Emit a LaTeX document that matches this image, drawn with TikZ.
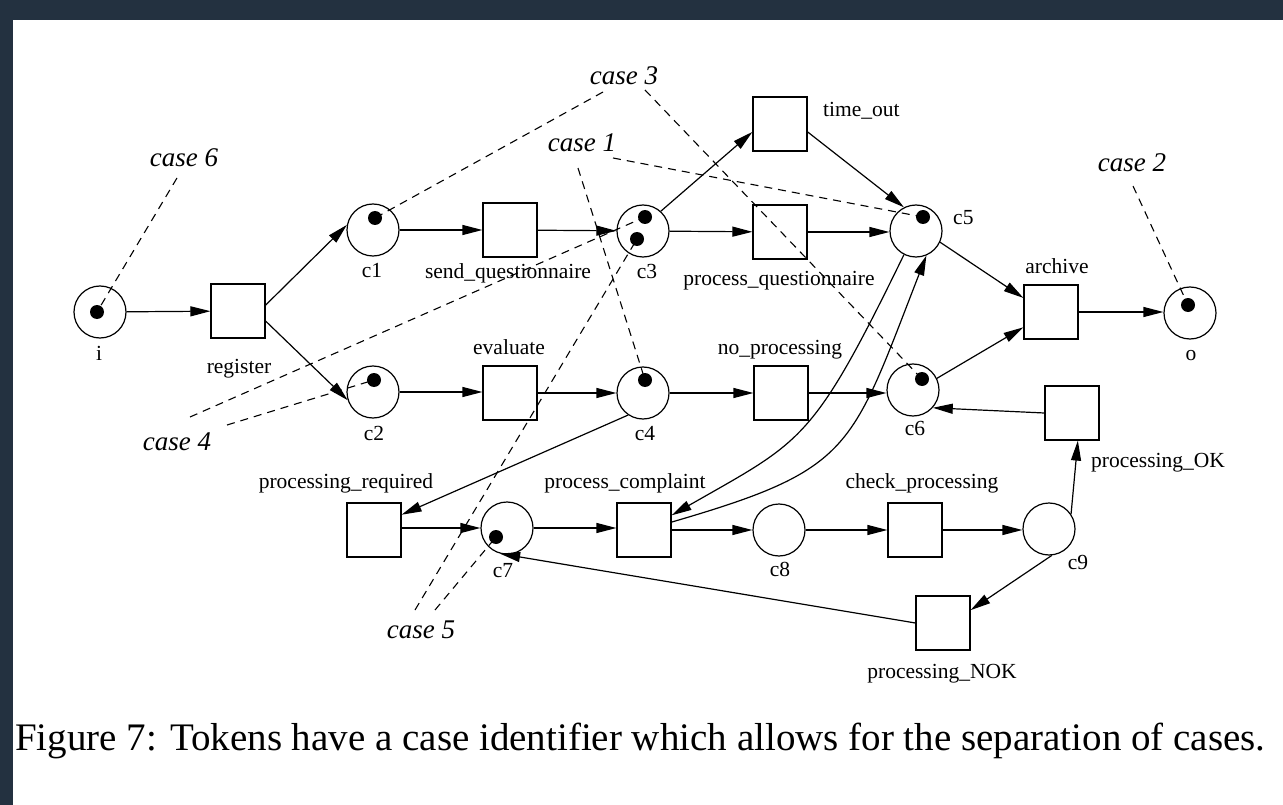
\documentclass[tikz,border=0pt]{standalone}
\usepackage{fontspec}
\setmainfont{Liberation Serif}
\usetikzlibrary{arrows.meta}
\definecolor{framecol}{RGB}{35,49,64}
\newcommand\lblfont{\fontsize{21.5}{24}\selectfont}
\newcommand\caselblfont{\fontsize{27}{30}\selectfont\itshape}
\newcommand\captfont{\fontsize{39}{44}\selectfont}
\tikzset{
  place/.style={circle, draw, line width=1.2pt, minimum size=52pt, inner sep=0pt},
  trans/.style={rectangle, draw, line width=1.2pt, minimum size=54pt, inner sep=0pt},
  tok/.style={circle, fill=black, minimum size=14pt, inner sep=0pt},
  flow/.style={-{Triangle[length=20pt,width=10pt]}, line width=1.2pt},
  lbl/.style={font=\lblfont, inner sep=0pt, anchor=base},
  caselbl/.style={font=\caselblfont, inner sep=0pt, anchor=base},
  caseline/.style={dash pattern=on 8pt off 6pt, line width=1.1pt},
}
\begin{document}
\begin{tikzpicture}[x=1pt,y=-1pt]
\useasboundingbox (0,0) rectangle (1283,805);
\fill[framecol] (0,0) rectangle (1283,805);
\fill[white] (13,20) rectangle (1283,805);

% places
\node[place] (i)  at (100,312) {};
\node[place] (c1) at (373,230) {};
\node[place] (c2) at (373,392) {};
\node[place] (c3) at (643,231) {};
\node[place] (c4) at (643,393) {};
\node[place] (c5) at (916,231) {};
\node[place] (c6) at (913,390) {};
\node[place] (c7) at (507,528) {};
\node[place] (c8) at (779,530) {};
\node[place] (c9) at (1049,529) {};
\node[place] (o)  at (1190,313) {};

% transitions
\node[trans] (register)  at (238,311) {};
\node[trans] (sendq)     at (510,230) {};
\node[trans] (evaluate)  at (510,393) {};
\node[trans] (timeout)   at (780,124) {};
\node[trans] (procq)     at (780,232) {};
\node[trans] (noproc)    at (781,393) {};
\node[trans] (archive)   at (1051,312) {};
\node[trans] (procOK)    at (1072,413) {};
\node[trans] (procreq)   at (374,530) {};
\node[trans] (proccomp)  at (644,530) {};
\node[trans] (checkproc) at (915,530) {};
\node[trans] (procNOK)   at (943,623) {};

% labels of places and transitions
\node[lbl] (l-i)  at (99,360) {i};
\node[lbl] (l-register) at (239,373) {register};
\node[lbl] (l-c1) at (372,278) {c1};
\node[lbl] (l-sendq) at (508,279) {send\_questionnaire};
\node[lbl] (l-c3) at (647,279) {c3};
\node[lbl] (l-procq) at (779,286) {process\_questionnaire};
\node[lbl, anchor=base west] (l-timeout) at (823,117) {time\_out};
\node[lbl, anchor=base west] (l-c5) at (953,225) {c5};
\node[lbl] (l-archive) at (1057,273) {archive};
\node[lbl] (l-o) at (1191,360) {o};
\node[lbl] (l-evaluate) at (509,354) {evaluate};
\node[lbl] (l-c2) at (374,440) {c2};
\node[lbl] (l-c4) at (645,440) {c4};
\node[lbl] (l-noproc) at (780,354) {no\_processing};
\node[lbl] (l-c6) at (915,435) {c6};
\node[lbl, anchor=base west] (l-procOK) at (1091,467) {processing\_OK};
\node[lbl] (l-procreq) at (346,488) {processing\_required};
\node[lbl] (l-proccomp) at (625,488) {process\_complaint};
\node[lbl] (l-checkproc) at (922,488) {check\_processing};
\node[lbl] (l-c7) at (503,577) {c7};
\node[lbl] (l-c8) at (780,576) {c8};
\node[lbl] (l-c9) at (1078,569) {c9};
\node[lbl] (l-procNOK) at (942,678) {processing\_NOK};

% arcs
\draw[flow] (i) -- (register);
\draw[flow] (register.12) -- (c1.169);
\draw[flow] (register.-20) -- (c2.198);
\draw[flow] (c1) -- (sendq);
\draw[flow] (sendq) -- (c3);
\draw[flow] (c3.48) -- (timeout.196);
\draw[flow] (c3) -- (procq);
\draw[flow] (procq) -- (c5.west |- procq);
\draw[flow] (timeout.-16) -- (c5.117);
\draw[flow] (c5.-25) -- (archive.153);
\draw[flow] (c6.26) -- (archive.209);
\draw[flow] (archive) -- (o.west |- archive);
\draw[flow] (c2) -- (evaluate.west |- c2);
\draw[flow] (evaluate.east |- c4) -- (c4);
\draw[flow] (c4) -- (noproc);
\draw[flow] (noproc) -- (c6.west |- noproc);
\draw[flow] (c4.236) -- (procreq.29);
\draw[flow] (procreq.east |- c7) -- (c7);
\draw[flow] (c7) -- (proccomp.west |- c7);
\draw[flow] (proccomp) -- (c8);
\draw[flow] (c8) -- (checkproc);
\draw[flow] (checkproc) -- (c9.west |- checkproc);
\draw[flow] (c9.34) -- (procOK.-78);
\draw[flow] (procOK.west) -- (c6.-42);
\draw[flow] (c9.-84) -- (procNOK.25);
\draw[flow] (procNOK.west) -- (c7.-105);
\draw[flow] (c5.243) .. controls +(-92,189) and +(131,-75) .. (proccomp.28);
\draw[flow] (proccomp.16) .. controls +(182,-53) and +(-76,195) .. (c5.-67);

% tokens
\node[tok] (t-i)  at (97,312) {};
\node[tok] (t-c1) at (375,218) {};
\node[tok] (t-c2) at (374,380) {};
\node[tok] (t-c3a) at (645,217) {};
\node[tok] (t-c3b) at (637,239) {};
\node[tok] (t-c4) at (645,380) {};
\node[tok] (t-c5) at (923,217) {};
\node[tok] (t-c6) at (922,379) {};
\node[tok] (t-c7) at (496,537) {};
\node[tok] (t-o)  at (1188,305) {};

% case identifiers
\node[caselbl] (k6) at (184,167) {case 6};
\node[caselbl] (k3) at (624,85) {case 3};
\node[caselbl] (k1) at (582,152) {case 1};
\node[caselbl] (k2) at (1132,172) {case 2};
\node[caselbl] (k4) at (177,450) {case 4};
\node[caselbl] (k5) at (421,638) {case 5};

\coordinate (k6a) at (177,178);
\coordinate (k3a) at (603,92);
\coordinate (k3b) at (645,90);
\coordinate (k1a) at (613,158);
\coordinate (k1b) at (578,168);
\coordinate (k2a) at (1133,186);
\coordinate (k4a) at (190,417);
\coordinate (k4b) at (227,425);
\coordinate (k5a) at (415,610);
\coordinate (k5b) at (435,610);

\draw[caseline] (k6a) -- (t-i.center);
\draw[caseline] (k3a) -- (t-c1.center);
\draw[caseline] (k3b) -- (t-c6.center);
\draw[caseline] (k1a) -- (t-c5.center);
\draw[caseline] (k1b) -- (t-c4.center);
\draw[caseline] (k2a) -- (t-o.center);
\draw[caseline] (k4a) -- (t-c3a.center);
\draw[caseline] (k4b) -- (t-c2.center);
\draw[caseline] (k5a) -- (t-c3b.center);
\draw[caseline] (k5b) -- (t-c7.center);

% caption
\node[font=\captfont, inner sep=0pt, anchor=base west] (caption) at (15,750)
  {Figure 7: Tokens have a case identifier which allows for the separation of cases.};
\end{tikzpicture}
\end{document}
